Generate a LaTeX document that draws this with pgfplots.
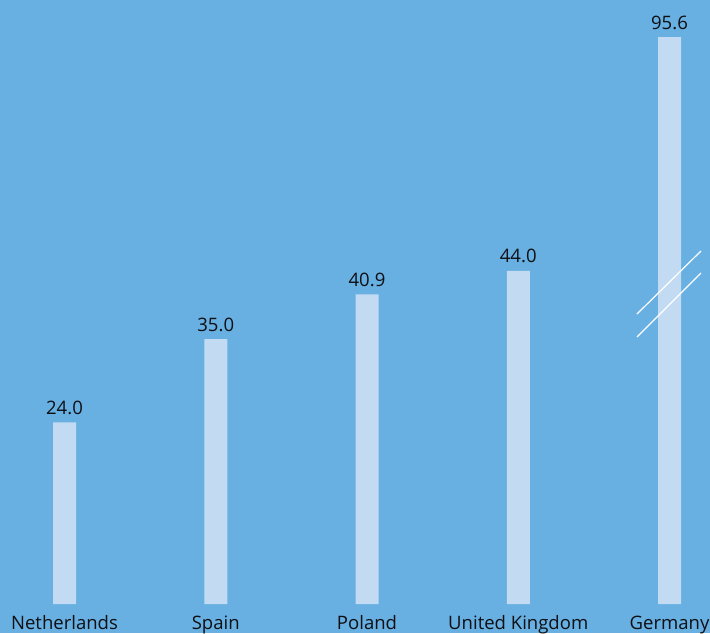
\documentclass[border=0pt]{standalone}
\usepackage{pgfplots}
\pgfplotsset{compat=1.18}
\usepackage{pgfplotstable}
\usepackage{fontspec}
\setmainfont{Open Sans}
\definecolor{bg}{RGB}{103,176,225}
\definecolor{barc}{RGB}{194,219,242}
\definecolor{txt}{RGB}{15,15,20}
\pgfplotstableread{
x y label
0 24.0 24.0
1 35.0 35.0
2 40.9 40.9
3 44.0 44.0
4 74.9 95.6
}\datatable
\begin{document}
\begin{tikzpicture}
\fill[bg] (0,-21.75pt) rectangle (532.5pt,453pt);
\useasboundingbox (0,-21.75pt) rectangle (532.5pt,453pt);
\begin{axis}[
  scale only axis,
  width=532.5pt, height=453pt,
  xmin=-0.4265, xmax=4.2678,
  ymin=0, ymax=79.79,
  axis line style={draw=none},
  ytick=\empty,
  xtick={0,1,2,3,4},
  xticklabels={Netherlands,Spain,Poland,United Kingdom,Germany},
  major tick length=0pt,
  xticklabel style={anchor=base, yshift=-18.75pt, inner sep=0pt, font=\fontsize{13.9pt}{16pt}\selectfont, text=txt},
  ybar, bar width=17.25pt,
  point meta=explicit symbolic,
  nodes near coords,
  every node near coord/.append style={anchor=base, yshift=6pt, inner sep=0pt, font=\fontsize{13.9pt}{16pt}\selectfont, text=txt},
  clip=false,
]
\addplot[fill=barc, draw=none] table[x=x, y=y, meta=label] {\datatable};
\draw[white, line width=0.9pt] (axis cs:3.785,38.31) -- (axis cs:4.208,46.63);
\draw[white, line width=0.9pt] (axis cs:3.785,35.27) -- (axis cs:4.208,43.73);
\end{axis}
\end{tikzpicture}
\end{document}
